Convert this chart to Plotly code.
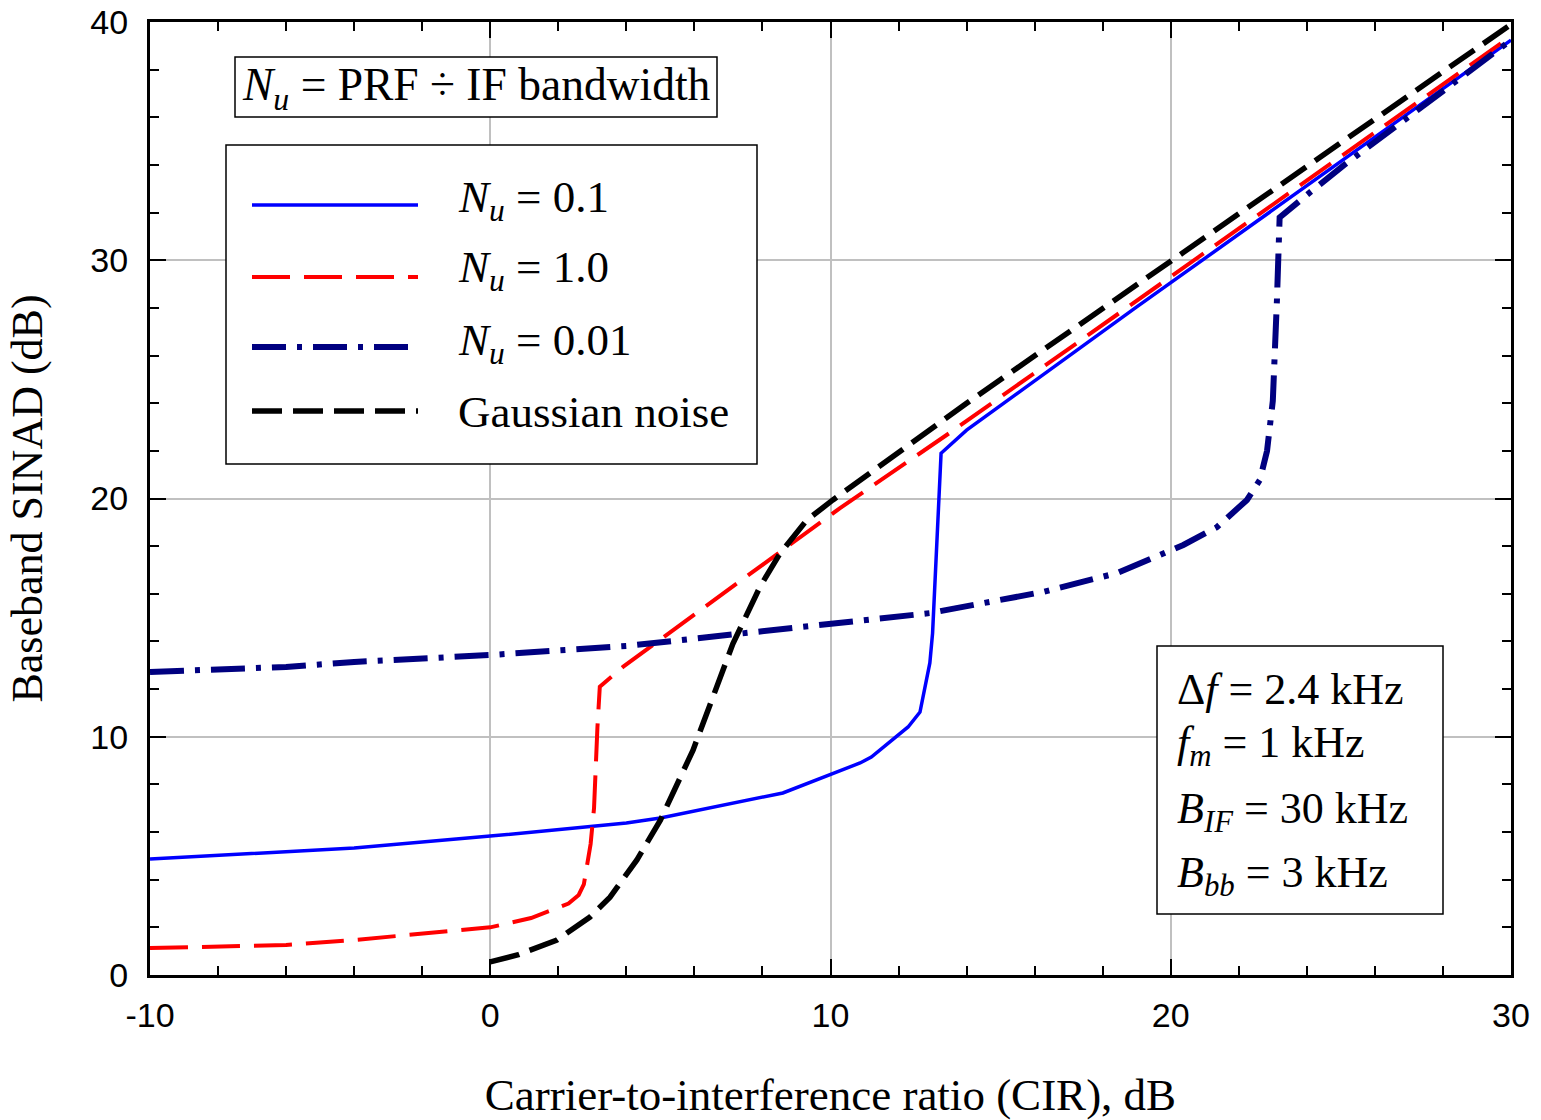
import plotly.graph_objects as go

# ---------------- data ----------------
cir_nu01 = [-10, -4, 0, 4, 5, 8.6, 10.87, 11.2, 12.28, 12.63, 12.92, 13.0, 13.25, 14.0, 19.0, 30]
sinad_nu01 = [4.87, 5.33, 5.83, 6.38, 6.59, 7.64, 8.9, 9.15, 10.41, 11.04, 13.1, 14.35, 21.9, 22.87, 28.04, 39.24]

cir_nu1 = [-10, -6, -4, 0, 1.2, 2.3, 2.6, 2.75, 2.95, 3.05, 3.15, 3.22, 3.9, 8.72, 10.28, 13.5, 30]
sinad_nu1 = [1.13, 1.26, 1.47, 2.0, 2.39, 3.0, 3.36, 3.8, 5.5, 7.0, 10.4, 12.1, 12.93, 17.96, 19.6, 22.75, 39.4]

cir_nu001 = [-10, -6, -4, 0, 4, 7.55, 12.92, 16.25, 18.42, 20.37, 21.36, 22.24, 22.62, 22.83, 23.0, 23.12, 23.2, 24.1, 25.1, 30]
sinad_nu001 = [12.72, 12.93, 13.14, 13.43, 13.81, 14.35, 15.19, 16.08, 16.87, 18.05, 18.8, 19.94, 20.78, 22.0, 24.1, 28.3, 31.8, 32.86, 34.0, 39.24]

cir_gauss = [0, 0.8, 1.96, 2.93, 3.52, 4.31, 5.0, 5.96, 7.13, 7.93, 8.52, 9.31, 10.07, 14.0, 30]
sinad_gauss = [0.55, 0.84, 1.47, 2.43, 3.27, 4.83, 6.5, 9.44, 13.9, 16.3, 17.7, 19.1, 19.94, 24.0, 39.9]

series_names = ["<i>N</i><sub><i>u</i></sub> = 0.1",
                "<i>N</i><sub><i>u</i></sub> = 1.0",
                "<i>N</i><sub><i>u</i></sub> = 0.01",
                "Gaussian noise"]

x_tick_vals = [-10, 0, 10, 20, 30]
x_tick_text = ["-10", "0", "10", "20", "30"]
y_tick_vals = [0, 10, 20, 30, 40]
y_tick_text = ["0", "10", "20", "30", "40"]

param_lines = ["Δ<i>f</i> = 2.4 kHz",
               "<i>f</i><sub><i>m</i></sub> = 1 kHz",
               "<i>B</i><sub><i>IF</i></sub> = 30 kHz",
               "<i>B</i><sub><i>bb</i></sub> = 3 kHz"]
nu_def_text = "<i>N</i><sub><i>u</i></sub> = PRF ÷ IF bandwidth"

# ---------------- styles ----------------
colors = ["#0000ff", "#ff0000", "#000080", "#000000"]
widths = [3.5, 4, 6, 5.5]
dashes = ["solid", "38px,14px", "34px,11px,5px,11px", "30px,11px"]

W, H = 1541, 1120
ML, MR, MT, MB = 150, 30, 22, 145
PW = W - ML - MR
PH = H - MT - MB

def px(x):
    return (x - ML) / PW

def py(y):
    return (H - MB - y) / PH

SERIF = "Liberation Serif, Times New Roman, serif"
SANS = "Liberation Sans, Arial, sans-serif"

fig = go.Figure()
data = [(cir_nu01, sinad_nu01), (cir_nu1, sinad_nu1), (cir_nu001, sinad_nu001), (cir_gauss, sinad_gauss)]
for (xs, ys), name, c, w, d in zip(data, series_names, colors, widths, dashes):
    fig.add_trace(go.Scatter(x=xs, y=ys, mode="lines", name=name, showlegend=False,
                             line=dict(color=c, width=w, dash=d)))

axis_common = dict(
    showline=True, linecolor="black", linewidth=3, mirror="allticks",
    ticks="inside", ticklen=16, tickwidth=2, tickcolor="black",
    showgrid=True, gridcolor="#c0c0c0", gridwidth=2, zeroline=False,
    automargin=False,
    tickfont=dict(family=SANS, size=34, color="black"),
    minor=dict(ticks="inside", ticklen=9, tickwidth=2, tickcolor="black", dtick=2, showgrid=False),
)

fig.update_xaxes(range=[-10, 30], tickvals=x_tick_vals, ticktext=x_tick_text,
                 ticklabelstandoff=8,
                 title=dict(text="Carrier-to-interference ratio (CIR), dB",
                            font=dict(family=SERIF, size=45, color="black"), standoff=47),
                 **axis_common)
fig.update_yaxes(range=[0, 40], tickvals=y_tick_vals, ticktext=y_tick_text,
                 ticklabelstandoff=12,
                 title=dict(text="Baseband SINAD (dB)",
                            font=dict(family=SERIF, size=44, color="black"), standoff=34),
                 **axis_common)

shapes = []
annotations = []

# top definition box
shapes.append(dict(type="rect", xref="paper", yref="paper", layer="above",
                   x0=px(235), x1=px(717), y0=py(117), y1=py(57),
                   line=dict(color="black", width=1.5), fillcolor="white"))
annotations.append(dict(xref="paper", yref="paper", x=px(476), y=py(88), text=nu_def_text,
                        showarrow=False, xanchor="center", yanchor="middle",
                        font=dict(family=SERIF, size=45.5, color="black")))

# legend box
shapes.append(dict(type="rect", xref="paper", yref="paper", layer="above",
                   x0=px(226), x1=px(757), y0=py(464), y1=py(145),
                   line=dict(color="black", width=1.5), fillcolor="white"))
leg_sample_y = [205, 277, 347, 411]
leg_text_y = [200, 270, 343, 412]
for i in range(4):
    shapes.append(dict(type="line", xref="paper", yref="paper", layer="above",
                       x0=px(252), x1=px(418), y0=py(leg_sample_y[i]), y1=py(leg_sample_y[i]),
                       line=dict(color=colors[i], width=widths[i], dash=dashes[i])))
    annotations.append(dict(xref="paper", yref="paper", x=px(456), y=py(leg_text_y[i]),
                            text=series_names[i], showarrow=False,
                            xanchor="left", yanchor="middle",
                            font=dict(family=SERIF, size=45, color="black")))

# parameter box
shapes.append(dict(type="rect", xref="paper", yref="paper", layer="above",
                   x0=px(1157), x1=px(1443), y0=py(914), y1=py(646),
                   line=dict(color="black", width=1.5), fillcolor="white"))
par_y = [689, 745, 811, 875]
for t, yy in zip(param_lines, par_y):
    annotations.append(dict(xref="paper", yref="paper", x=px(1175), y=py(yy), text=t,
                            showarrow=False, xanchor="left", yanchor="middle",
                            font=dict(family=SERIF, size=44, color="black")))

fig.update_layout(width=W, height=H, margin=dict(l=ML, r=MR, t=MT, b=MB),
                  paper_bgcolor="white", plot_bgcolor="white",
                  shapes=shapes, annotations=annotations, showlegend=False)

fig.write_html("out.html")
